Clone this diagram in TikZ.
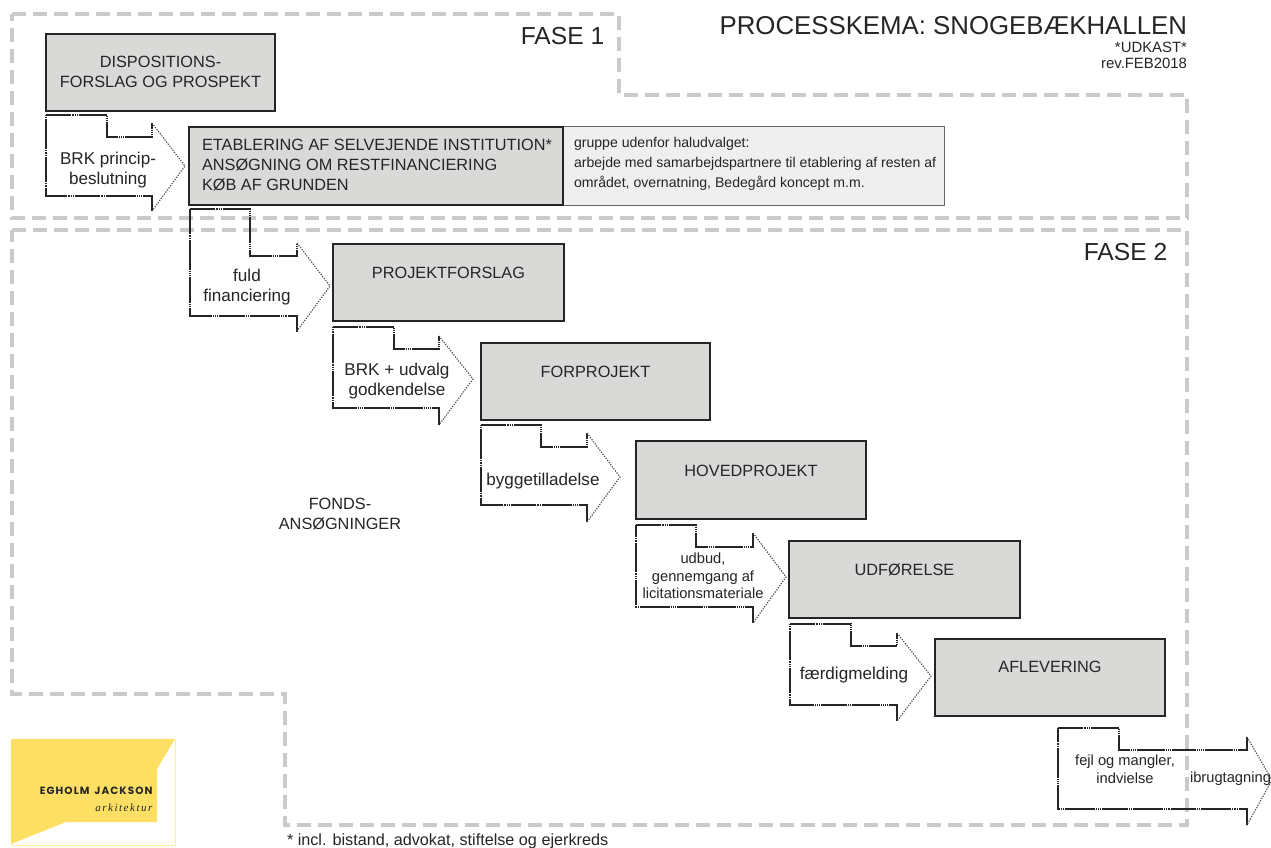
\documentclass[tikz,border=0pt]{standalone}
\usepackage{fontspec}
\setmainfont{Liberation Sans}
\newfontfamily\logofont[LetterSpace=10]{Poppins}
\newfontfamily\logoital[LetterSpace=14]{Liberation Serif}
\definecolor{boxgray}{HTML}{D9D9D8}
\definecolor{sidegray}{HTML}{EFEFEF}
\definecolor{inkdark}{HTML}{252525}
\definecolor{dashgray}{HTML}{CACACA}
\definecolor{logoyellow}{HTML}{FDE063}
\tikzset{
  x=1pt,y=-1pt,
  every node/.style={inner sep=0pt,outer sep=0pt,text=inkdark,align=center},
  phasebox/.style={draw=dashgray,line width=3.2pt,dash pattern=on 14pt off 7pt,line join=miter},
  stagebox/.style={draw=inkdark,fill=boxgray,line width=2.2pt},
  sidebox/.style={draw=black!60,fill=sidegray,line width=1pt},
  stagelabel/.style={font=\fontsize{16.3}{20}\selectfont},
  steptext/.style={font=\fontsize{17.1}{20}\selectfont},
  smalltext/.style={font=\fontsize{14.1}{20}\selectfont},
  arrowthick/.style={draw=inkdark,line width=1.8pt,dash pattern=on 24pt off 9pt on 28pt off 7pt,line join=miter},
  arrowdot/.style={draw=inkdark,line width=1.3pt,dash pattern=on 1.1pt off 1.1pt,line join=miter},
  headdot/.style={draw=black!70,line width=1.1pt,dash pattern=on 1.3pt off 1.3pt},
}
% #1 tl x, #2 tl y, #3 notch x, #4 notch y, #5 head x, #6 head top y, #7 tip x, #8 tip y, #9 bottom y, then head-bottom y
\newcommand{\steparrow}[9]{%
  \def\argA{#1}\def\argB{#2}\def\argC{#3}\def\argD{#4}\def\argE{#5}\def\argF{#6}\def\argG{#7}\def\argH{#8}\def\argI{#9}\steparrowcont}
\newcommand{\steparrowcont}[1]{%
  \path[arrowdot] (\argA,\argB) -- (\argC,\argB) -- (\argC,\argD) -- (\argE,\argD) -- (\argE,\argF);
  \path[arrowdot] (\argA,\argB) -- (\argA,\argI) -- (\argE,\argI) -- (\argE,#1);
  \path[arrowthick] (\argA,\argB) -- (\argC,\argB) -- (\argC,\argD) -- (\argE,\argD) -- (\argE,\argF);
  \path[arrowthick] (\argE,#1) -- (\argE,\argI) -- (\argA,\argI) -- (\argA,\argB);
  \path[headdot] (\argE,\argF) -- (\argG,\argH) -- (\argE,#1);
}
\begin{document}
\begin{tikzpicture}
\useasboundingbox (0,0) rectangle (1271,848);
\fill[white] (0,0) rectangle (1271,848);
% phase outlines
\path[phasebox] (12,14) -- (619,14) -- (619,95) -- (1187,95) -- (1187,218) -- (12,218) -- cycle;
\path[phasebox] (12,230) -- (1187,230) -- (1187,825) -- (285,825) -- (285,694) -- (12,694) -- cycle;
% logo
\draw[logoyellow!60,line width=.5pt] (11,739) rectangle (175,845);
\fill[logoyellow] (11,739) -- (175,739) -- (157,769) -- (157,822) -- (66,822) -- (11,844) -- cycle;
\node[anchor=east,font=\logofont\fontsize{10.5}{11}\selectfont\bfseries] (logoname) at (152.5,790.5) {EGHOLM\hspace{5pt}JACKSON};
\node[anchor=east,font=\logoital\fontsize{11}{11}\selectfont\itshape] (logosub) at (152.5,808) {arkitektur};
% arrows
\steparrow{46}{115}{107}{137}{152}{123}{185}{166}{196}{211}
\steparrow{190}{209}{250}{256}{297}{243}{330}{286}{316}{331}
\steparrow{333}{327}{394}{349}{439}{336}{473}{379}{408}{425}
\steparrow{481}{425}{541}{447}{587}{433}{620}{477}{505}{522}
\steparrow{636}{525}{696}{547}{753}{533}{786}{577}{607}{623}
\steparrow{790}{624}{851}{646}{897}{633}{931}{676}{705}{721}
\steparrow{1058}{728}{1119}{750}{1247}{737}{1272}{780}{809}{825}
% boxes
\node[stagebox,minimum width=229pt,minimum height=77pt,anchor=north west] (disp) at (46,34) {};
\node[stagelabel] (disptext) at (160.5,71.5) {DISPOSITIONS-\\FORSLAG OG PROSPEKT};
\node[sidebox,minimum width=384pt,minimum height=78pt,anchor=north west] (side) at (560,127) {};
\node[stagebox,line width=1.7pt,minimum width=374pt,minimum height=78pt,anchor=north west] (etab) at (189,127) {};
\node[anchor=west,align=left,stagelabel] (etabtext) at (202,165) {ETABLERING AF SELVEJENDE INSTITUTION*\\ANSØGNING OM RESTFINANCIERING\\KØB AF GRUNDEN};
\node[anchor=west,align=left,smalltext] (sidetext) at (574,164) {gruppe udenfor haludvalget:\\arbejde med samarbejdspartnere til etablering af resten af\\området, overnatning, Bedegård koncept m.m.};
\node[stagebox,minimum width=231pt,minimum height=77pt,anchor=north west] (proj) at (333,244) {};
\node[stagelabel] at (448.5,273) {PROJEKTFORSLAG};
\node[stagebox,minimum width=229pt,minimum height=77pt,anchor=north west] (forp) at (481,343) {};
\node[stagelabel] at (595.5,372) {FORPROJEKT};
\node[stagebox,minimum width=230pt,minimum height=78pt,anchor=north west] (hoved) at (636,441) {};
\node[stagelabel] at (751,471) {HOVEDPROJEKT};
\node[stagebox,minimum width=231pt,minimum height=77pt,anchor=north west] (udf) at (789,541) {};
\node[stagelabel] at (904.5,570) {UDFØRELSE};
\node[stagebox,minimum width=230pt,minimum height=77pt,anchor=north west] (afl) at (935,639) {};
\node[stagelabel] at (1050,667) {AFLEVERING};
% arrow labels
\node[steptext] at (108,170) {BRK princip-\\beslutning};
\node[steptext] at (247,287) {fuld\\financiering};
\node[steptext] at (397,381) {BRK + udvalg\\godkendelse};
\node[steptext] at (543,481) {byggetilladelse};
\node[font=\fontsize{14.7}{17.5}\selectfont] at (703,576) {udbud,\\gennemgang af\\licitationsmateriale};
\node[steptext] at (854,675) {færdigmelding};
\node[font=\fontsize{14.7}{17.5}\selectfont] at (1125,769) {fejl og mangler,\\indvielse};
\node[font=\fontsize{14.7}{17.5}\selectfont] at (1230.5,779) {ibrugtagning};
% free text
\node[font=\fontsize{16.3}{19.5}\selectfont] (fonds) at (340,514) {FONDS-\\ANSØGNINGER};
\node[font=\fontsize{24.6}{28}\selectfont] (fase1) at (562.5,36) {FASE 1};
\node[font=\fontsize{24.6}{28}\selectfont] (fase2) at (1125.5,252) {FASE 2};
\node[anchor=east,font=\fontsize{25.8}{30}\selectfont] (title) at (1187,26) {PROCESSKEMA: SNOGEBÆKHALLEN};
\node[anchor=east,align=right,font=\fontsize{14.9}{16}\selectfont] (sub) at (1187,55.5) {*UDKAST*\\rev.FEB2018};
\node[anchor=west,font=\fontsize{16.2}{18}\selectfont] (foot) at (287,841) {* incl. bistand, advokat, stiftelse og ejerkreds};
\end{tikzpicture}
\end{document}
